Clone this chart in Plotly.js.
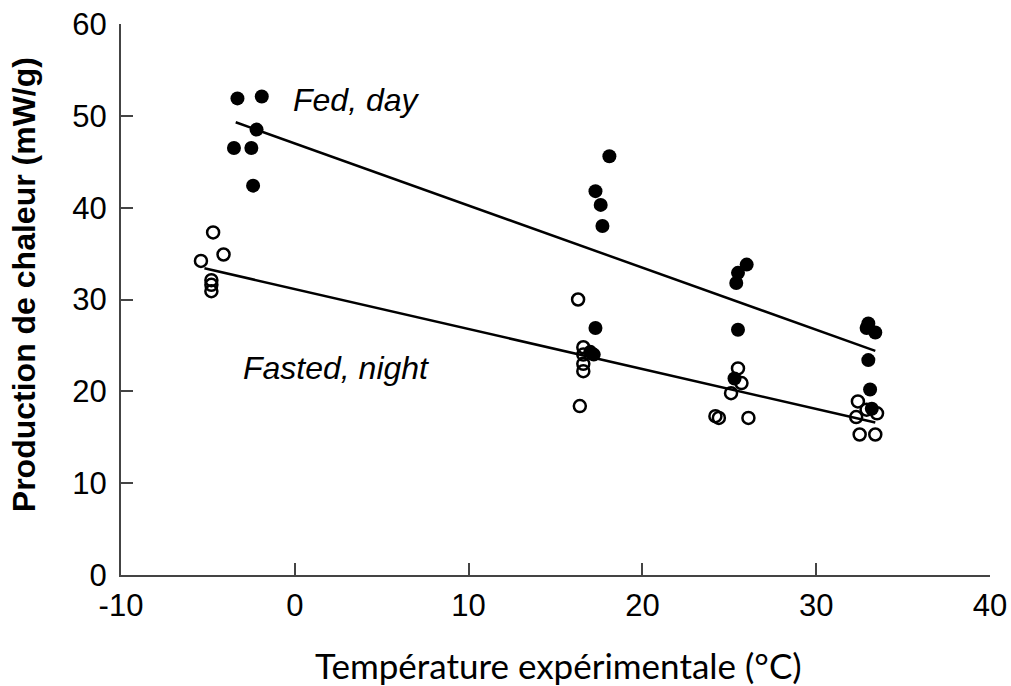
<!DOCTYPE html>
<html>
<head>
<meta charset="utf-8">
<script src="https://cdn.plot.ly/plotly-3.0.1.min.js"></script>
<style>html,body{margin:0;padding:0;background:#fff;}#chart{width:1011px;height:686px;}</style>
</head>
<body>
<div id="chart"></div>
<script>
// Fed, day (filled circles)
const fedX = [-3.3, -1.9, -2.2, -3.5, -2.5, -2.4, 18.1, 17.3, 17.6, 17.7, 17.3, 17.0, 17.2, 26.0, 25.5, 25.4, 25.5, 25.3, 33.0, 32.9, 33.4, 33.0, 33.1, 33.2];
const fedY = [51.9, 52.1, 48.5, 46.5, 46.5, 42.4, 45.6, 41.8, 40.3, 38.0, 26.9, 24.3, 24.0, 33.8, 32.9, 31.8, 26.7, 21.4, 27.4, 26.9, 26.4, 23.4, 20.2, 18.1];
// Fasted, night (open circles)
const fastedX = [-4.7, -4.1, -5.4, -4.8, -4.8, -4.8, 16.3, 16.6, 16.6, 16.6, 16.6, 16.4, 25.5, 25.7, 25.1, 24.2, 24.4, 26.1, 32.4, 32.3, 33.5, 32.9, 32.5, 33.4];
const fastedY = [37.3, 34.9, 34.2, 32.1, 31.6, 30.9, 30.0, 24.8, 24.0, 23.0, 22.2, 18.4, 22.5, 20.9, 19.8, 17.3, 17.1, 17.1, 18.9, 17.2, 17.6, 18.0, 15.3, 15.3];
// Regression lines (endpoints)
const fedLineX = [-3.4, 33.4];
const fedLineY = [49.3, 24.4];
const fastedLineX = [-5.2, 33.4];
const fastedLineY = [33.4, 16.6];
// Tick values
const xTicks = [-10, 0, 10, 20, 30, 40];
const yTicks = [0, 10, 20, 30, 40, 50, 60];
// Texts
const xTitle = 'Température expérimentale (°C)';
const yTitle = 'Production de chaleur (mW/g)';
const labelFed = 'Fed, day';
const labelFasted = 'Fasted, night';

const traces = [
  {x: fedLineX, y: fedLineY, mode: 'lines', line: {color: '#000', width: 2.5}, hoverinfo: 'skip'},
  {x: fastedLineX, y: fastedLineY, mode: 'lines', line: {color: '#000', width: 2.5}, hoverinfo: 'skip'},
  {x: fastedX, y: fastedY, mode: 'markers', marker: {symbol: 'circle-open', size: 12, color: '#000', line: {width: 2.5, color: '#000'}}, cliponaxis: false},
  {x: fedX, y: fedY, mode: 'markers', marker: {symbol: 'circle', size: 14, color: '#000'}, cliponaxis: false}
];

const tickFont = {family: 'Liberation Sans, Arial, sans-serif', size: 31, color: '#000'};
const helv = 'Liberation Sans, Arial, sans-serif';

const layout = {
  width: 1011, height: 686,
  margin: {l: 121, r: 21, t: 24, b: 111},
  paper_bgcolor: '#fff', plot_bgcolor: '#fff',
  showlegend: false,
  xaxis: {
    range: [-10, 40], tickvals: xTicks, ticktext: xTicks.map(String),
    ticks: 'inside', ticklen: 12, tickwidth: 2, tickcolor: '#444',
    showline: true, linecolor: '#444', linewidth: 2, showgrid: false, zeroline: false,
    tickfont: tickFont, ticklabelstandoff: 2
  },
  yaxis: {
    range: [0, 60], tickvals: yTicks, ticktext: yTicks.map(String),
    ticks: 'inside', ticklen: 12, tickwidth: 2, tickcolor: '#444',
    showline: true, linecolor: '#444', linewidth: 2, showgrid: false, zeroline: false,
    tickfont: tickFont, ticklabelstandoff: 6
  },
  annotations: [
    {x: -0.2, y: 51.7, xref: 'x', yref: 'y', xanchor: 'left', yanchor: 'middle', showarrow: false,
     text: '<i>' + labelFed + '</i>', font: {family: helv, size: 32, color: '#000'}},
    {x: -3.1, y: 22.5, xref: 'x', yref: 'y', xanchor: 'left', yanchor: 'middle', showarrow: false,
     text: '<i>' + labelFasted + '</i>', font: {family: helv, size: 32, color: '#000'}},
    {x: -0.1116, y: 0.526, xref: 'paper', yref: 'paper', xanchor: 'center', yanchor: 'middle', showarrow: false,
     textangle: -90, text: '<b>' + yTitle + '</b>', font: {family: helv, size: 32, color: '#000'}},
    {x: 0.504, y: -0.163, xref: 'paper', yref: 'paper', xanchor: 'center', yanchor: 'middle', showarrow: false,
     text: xTitle, font: {family: 'Lato, sans-serif', size: 35, color: '#000'}}
  ]
};

Plotly.newPlot('chart', traces, layout, {staticPlot: true, displayModeBar: false});
</script>
</body>
</html>
